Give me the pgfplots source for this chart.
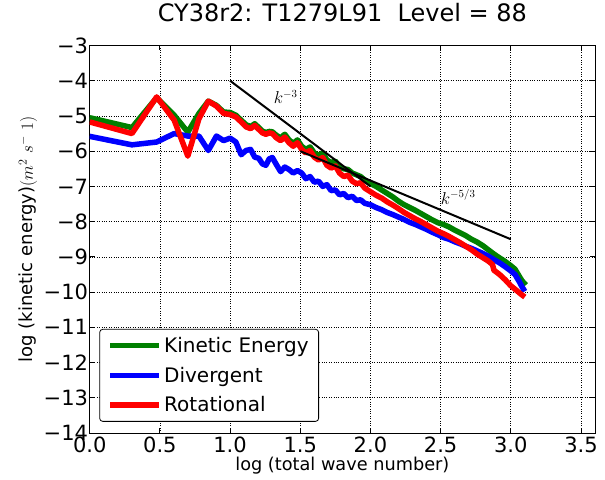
\documentclass[border=0pt]{standalone}
\usepackage{fontspec}
\setmainfont{DejaVu Sans}
\usepackage{pgfplots}
\pgfplotsset{compat=1.18}
\definecolor{mgreen}{rgb}{0,0.5,0}
\pgfplotstableread{
x y
0 -5.05
0.30103 -5.33
0.47712 -4.48
0.60206 -4.98
0.69897 -5.46
0.77815 -4.93
0.84510 -4.58
0.90309 -4.70
0.95424 -4.89
1.0 -4.90
1.04139 -4.98
1.07918 -5.12
1.11394 -5.25
1.14613 -5.30
1.17609 -5.22
1.20412 -5.33
1.23045 -5.43
1.25527 -5.47
1.27875 -5.44
1.30103 -5.45
1.33 -5.55
1.36 -5.62
1.39 -5.52
1.42 -5.68
1.45 -5.78
1.48 -5.68
1.51 -5.86
1.54 -5.95
1.57 -5.88
1.60 -6.05
1.63 -6.12
1.66 -6.05
1.69 -6.25
1.72 -6.32
1.75 -6.28
1.78 -6.45
1.81 -6.50
1.84 -6.52
1.87 -6.62
1.90 -6.67
1.93 -6.72
1.96 -6.82
2.00 -6.92
2.04 -7.00
2.08 -7.10
2.12 -7.20
2.16 -7.30
2.20 -7.42
2.24 -7.52
2.28 -7.60
2.32 -7.68
2.36 -7.77
2.40 -7.86
2.44 -7.95
2.48 -8.03
2.52 -8.08
2.56 -8.15
2.60 -8.24
2.64 -8.32
2.68 -8.40
2.72 -8.50
2.76 -8.58
2.80 -8.68
2.84 -8.80
2.88 -8.92
2.92 -9.03
2.96 -9.13
3.00 -9.25
3.03 -9.35
3.06 -9.55
3.08 -9.68
3.108 -9.80
}\kinetic
\pgfplotstableread{
x y
0 -5.58
0.30103 -5.82
0.47712 -5.74
0.60206 -5.50
0.69897 -5.57
0.77815 -5.57
0.84510 -5.98
0.90309 -5.57
0.95424 -5.70
1.0 -5.63
1.04139 -5.74
1.07918 -6.10
1.11394 -5.98
1.14613 -5.95
1.17609 -6.17
1.20412 -6.20
1.23045 -6.36
1.25527 -6.40
1.27875 -6.22
1.30103 -6.18
1.33 -6.38
1.36 -6.58
1.39 -6.45
1.42 -6.52
1.45 -6.62
1.48 -6.55
1.51 -6.62
1.54 -6.78
1.57 -6.72
1.60 -6.88
1.63 -6.85
1.66 -7.00
1.69 -6.95
1.72 -7.12
1.75 -7.10
1.78 -7.24
1.81 -7.20
1.84 -7.32
1.87 -7.28
1.90 -7.40
1.93 -7.38
1.96 -7.48
2.00 -7.52
2.04 -7.60
2.08 -7.66
2.12 -7.74
2.16 -7.80
2.20 -7.87
2.24 -7.94
2.28 -8.02
2.32 -8.08
2.36 -8.15
2.40 -8.22
2.44 -8.30
2.48 -8.37
2.52 -8.45
2.56 -8.50
2.60 -8.57
2.64 -8.63
2.68 -8.70
2.72 -8.76
2.76 -8.83
2.80 -8.90
2.84 -8.98
2.88 -9.08
2.92 -9.17
2.96 -9.28
3.00 -9.40
3.03 -9.50
3.06 -9.70
3.08 -9.85
3.10 -9.98
}\divergent
\pgfplotstableread{
x y
0 -5.17
0.30103 -5.50
0.47712 -4.46
0.60206 -5.12
0.69897 -6.14
0.77815 -5.08
0.84510 -4.58
0.90309 -4.72
0.95424 -4.93
1.0 -4.96
1.04139 -5.03
1.07918 -5.17
1.11394 -5.31
1.14613 -5.36
1.17609 -5.27
1.20412 -5.38
1.23045 -5.48
1.25527 -5.52
1.27875 -5.48
1.30103 -5.50
1.33 -5.62
1.36 -5.70
1.39 -5.60
1.42 -5.76
1.45 -5.86
1.48 -5.76
1.51 -5.95
1.54 -6.05
1.57 -5.98
1.60 -6.17
1.63 -6.25
1.66 -6.18
1.69 -6.40
1.72 -6.48
1.75 -6.42
1.78 -6.62
1.81 -6.72
1.84 -6.68
1.87 -6.85
1.90 -6.92
1.93 -6.90
1.96 -7.05
2.00 -7.15
2.04 -7.25
2.08 -7.33
2.12 -7.44
2.16 -7.53
2.20 -7.63
2.24 -7.74
2.28 -7.83
2.32 -7.92
2.36 -8.00
2.40 -8.09
2.44 -8.18
2.48 -8.27
2.52 -8.34
2.56 -8.42
2.60 -8.51
2.64 -8.60
2.68 -8.70
2.72 -8.80
2.76 -8.92
2.80 -9.02
2.84 -9.12
2.87 -9.22
2.88 -9.38
2.92 -9.50
2.96 -9.65
3.00 -9.82
3.04 -9.95
3.07 -10.05
3.10 -10.14
}\rotational
\begin{document}
\begin{tikzpicture}
\useasboundingbox (-89.7bp,-47bp) rectangle (515.3bp,433bp);
\begin{axis}[
  at={(0,0)}, anchor=south west,
  scale only axis, width=505.3bp, height=387.5bp,
  xmin=0, xmax=3.6, ymin=-14, ymax=-3,
  xtick={0,0.5,1,1.5,2,2.5,3,3.5},
  xticklabels={0.0,0.5,1.0,1.5,2.0,2.5,3.0,3.5},
  ytick={-14,-13,-12,-11,-10,-9,-8,-7,-6,-5,-4,-3},
  yticklabels={−14,−13,−12,−11,−10,−9,−8,−7,−6,−5,−4,−3},
  tick align=inside,
  major tick length=5bp,
  every tick/.style={black, line width=0.8bp},
  axis line style={line width=1bp},
  grid=major,
  grid style={black, dotted, line width=0.6bp},
  tick label style={font=\fontsize{21bp}{25bp}\selectfont},
  yticklabel style={inner xsep=0bp, xshift=-1.5bp},
  xticklabel style={inner ysep=0bp, yshift=-4bp},
  title={CY38r2: T1279L91\ \ Level = 88},
  title style={font=\fontsize{24bp}{28bp}\selectfont, at={(0.5,1)}, anchor=base, yshift=18.5bp},
  xlabel={log (total wave number)},
  xlabel style={font=\fontsize{17.7bp}{21bp}\selectfont, at={(axis description cs:0.5,0)}, anchor=center, yshift=-33bp},
  ylabel={log (kinetic energy)$(m^2\ s^{-}\ 1)$},
  ylabel style={font=\fontsize{18bp}{21bp}\selectfont, at={(axis description cs:-0.122,0.5)}, anchor=center},
  legend style={at={(0.019,0.029)}, anchor=south west, draw=black, line width=0.8bp,
    rounded corners=3bp, font=\fontsize{20bp}{24bp}\selectfont, inner xsep=8bp, inner ysep=6bp,
    row sep=9bp, cells={anchor=west}},
  legend image code/.code={\draw[#1] (0bp,0bp) -- (33bp,0bp); \path (0bp,0bp) -- (49bp,0bp);},
]
\addplot[mgreen, line width=5.5bp, line join=round] table[x=x,y=y] {\kinetic};
\addlegendentry{Kinetic Energy}
\addplot[blue, line width=5.5bp, line join=round] table[x=x,y=y] {\divergent};
\addlegendentry{Divergent}
\addplot[red, line width=5.5bp, line join=round] table[x=x,y=y] {\rotational};
\addlegendentry{Rotational}
\addplot[black, line width=2bp, forget plot] coordinates {(1,-4) (2,-7)};
\addplot[black, line width=2bp, forget plot] coordinates {(1.5,-6) (3,-8.5)};
\node[anchor=base west, font=\fontsize{16bp}{18bp}\selectfont, inner sep=0pt] at (axis cs:1.31,-4.65) {$k^{-3}$};
\node[anchor=base west, font=\fontsize{16bp}{18bp}\selectfont, inner sep=0pt] at (axis cs:2.5,-7.5) {$k^{-5/3}$};
\end{axis}
\end{tikzpicture}
\end{document}
